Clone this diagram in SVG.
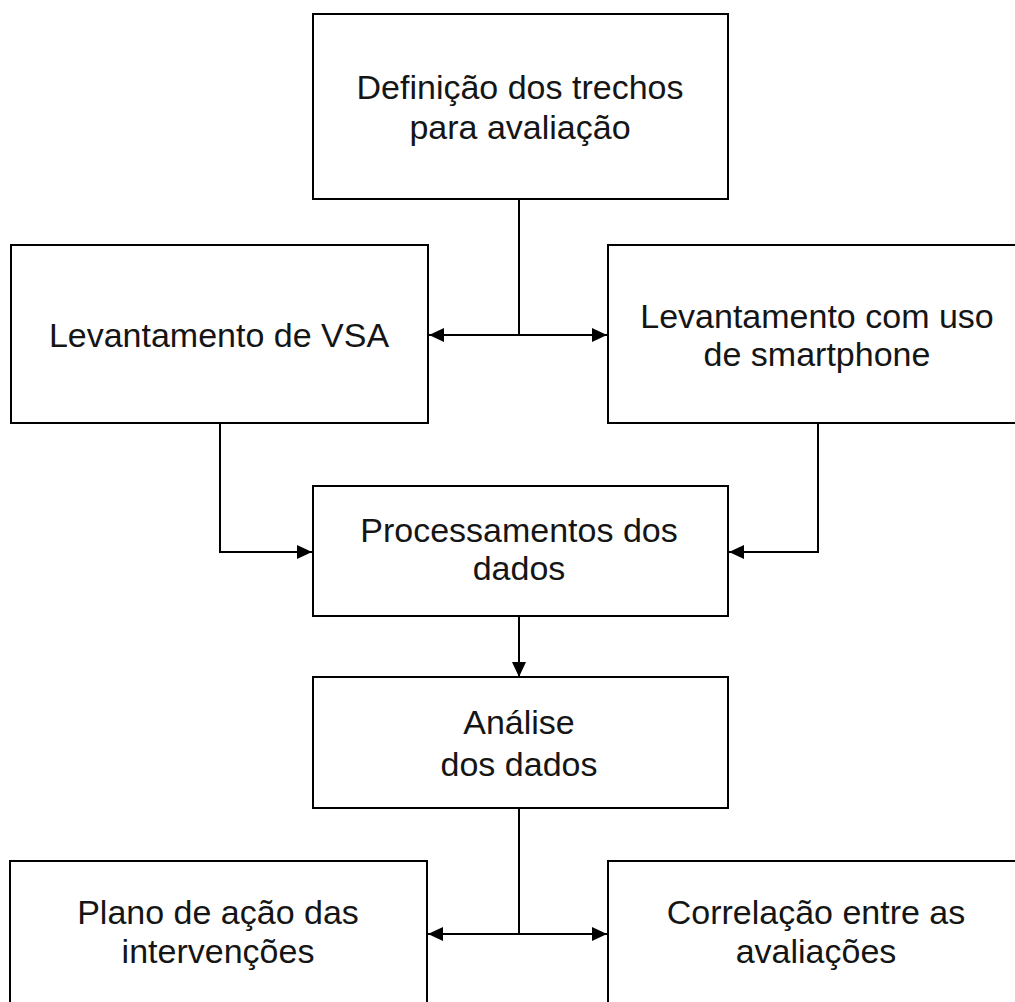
<svg xmlns="http://www.w3.org/2000/svg" width="1015" height="1002" viewBox="0 0 1015 1002">
<style>
.box{fill:#fff;stroke:#000;stroke-width:2}
.lbl{font-family:"Liberation Sans",Arial,sans-serif;font-size:34px;fill:#151515;text-anchor:middle}
.conn{fill:none;stroke:#000;stroke-width:2}
</style>
<defs>
<marker id="arr" viewBox="0 0 15 14" refX="15" refY="7" markerWidth="15" markerHeight="14" markerUnits="userSpaceOnUse" orient="auto">
<path d="M0,0 L15,7 L0,14 z" fill="#000"/>
</marker>
</defs>
<rect width="1015" height="1002" fill="#fff"/>
<g id="n-definicao">
<rect class="box" x="313" y="14" width="415" height="185"/>
<text class="lbl" x="520" y="99">Definição dos trechos</text>
<text class="lbl" x="520" y="139">para avaliação</text>
</g>
<g id="n-vsa">
<rect class="box" x="11" y="245" width="417" height="178"/>
<text class="lbl" x="219" y="347">Levantamento de VSA</text>
</g>
<g id="n-smartphone">
<rect class="box" x="608" y="245" width="418" height="178"/>
<text class="lbl" x="817" y="328">Levantamento com uso</text>
<text class="lbl" x="817" y="366">de smartphone</text>
</g>
<g id="n-processamento">
<rect class="box" x="313" y="486" width="415" height="130"/>
<text class="lbl" x="519" y="542">Processamentos dos</text>
<text class="lbl" x="519" y="580">dados</text>
</g>
<g id="n-analise">
<rect class="box" x="313" y="677" width="415" height="131"/>
<text class="lbl" x="519" y="734">Análise</text>
<text class="lbl" x="519" y="776">dos dados</text>
</g>
<g id="n-plano">
<rect class="box" x="10" y="861" width="417" height="178"/>
<text class="lbl" x="218" y="924">Plano de ação das</text>
<text class="lbl" x="218" y="963">intervenções</text>
</g>
<g id="n-correlacao">
<rect class="box" x="608" y="861" width="418" height="178"/>
<text class="lbl" x="816" y="924">Correlação entre as</text>
<text class="lbl" x="816" y="963">avaliações</text>
</g>
<g id="connectors">
<path class="conn" d="M519,199 V335 H429" marker-end="url(#arr)"/>
<path class="conn" d="M519,335 H607" marker-end="url(#arr)"/>
<path class="conn" d="M220,423 V552 H312" marker-end="url(#arr)"/>
<path class="conn" d="M818,423 V552 H729" marker-end="url(#arr)"/>
<path class="conn" d="M519,616 V677" marker-end="url(#arr)"/>
<path class="conn" d="M519,808 V934 H428" marker-end="url(#arr)"/>
<path class="conn" d="M519,934 H607" marker-end="url(#arr)"/>
</g>
</svg>
